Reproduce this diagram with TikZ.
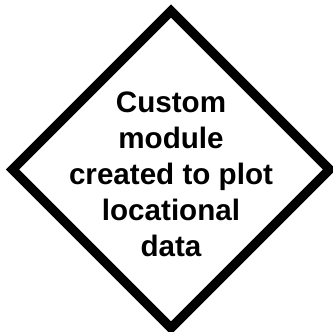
\documentclass[tikz,border=0pt]{standalone}
\usepackage{fontspec}
\setmainfont{Liberation Sans}
\usetikzlibrary{shapes.geometric}
\tikzset{
  decision/.style={draw=black, line width=9.5pt, miter limit=10, line join=miter,
    shape=diamond, aspect=1, minimum width=317pt, minimum height=317pt,
    inner sep=0pt, outer sep=0pt, fill=white},
  decisiontext/.style={align=center, inner sep=0pt, text=black,
    font=\bfseries\fontsize{29.6}{36}\selectfont}
}
\begin{document}
\begin{tikzpicture}[x=1pt,y=1pt]
  \useasboundingbox (0,0) rectangle (333,-332);
  \fill[white] (0,0) rectangle (333,-332);
  \node[decision] (dm) at (171,-169.5) {};
  \node[decisiontext] (txt) at ([yshift=-5pt]dm.center)
    {Custom\\module\\created to plot\\locational\\data};
\end{tikzpicture}
\end{document}
